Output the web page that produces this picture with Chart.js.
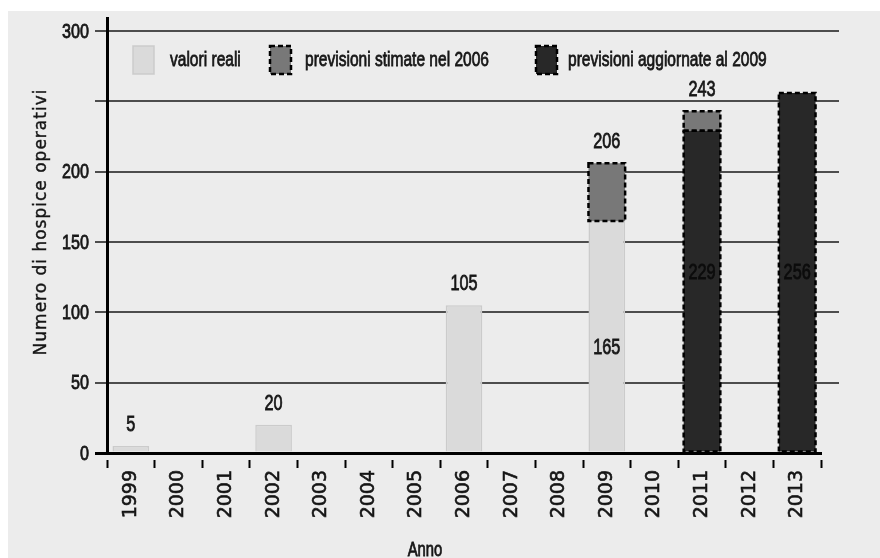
<!DOCTYPE html>
<html lang="it">
<head>
<meta charset="utf-8">
<title>Numero di hospice operativi</title>
<script src="https://cdn.jsdelivr.net/npm/chart.js@4.4.1/dist/chart.umd.min.js"></script>
<style>
  html, body { margin: 0; padding: 0; background: #ffffff; }
  #wrap { width: 880px; height: 558px; }
  canvas { display: block; }
</style>
</head>
<body>
<div id="wrap"><canvas id="chart" width="880" height="558"></canvas></div>
<script>
// Anni sull'asse orizzontale
const years = ['1999', '2000', '2001', '2002', '2003', '2004', '2005', '2006',
               '2007', '2008', '2009', '2010', '2011', '2012', '2013'];

// Hospice effettivamente operativi
const realValues = [5, null, null, 20, null, null, null, 105, null, null, 165, null, null, null, null];

// Previsioni aggiornate al 2009
const updatedForecast = [null, null, null, null, null, null, null, null, null, null, null, null, 229, null, 256];

// Previsioni stimate nel 2006 (totale previsto per l'anno)
const estimateTotals = [null, null, null, null, null, null, null, null, null, null, 206, null, 243, null, null];

// Tacche dell'asse verticale (250 senza etichetta)
const yTickValues = [0, 50, 100, 150, 200, 250, 300];
const yTickLabels = ['0', '50', '100', '150', '200', '', '300'];

const seriesNames = {
  real: 'valori reali',
  estimate: 'previsioni stimate nel 2006',
  updated: 'previsioni aggiornate al 2009'
};

// La parte stimata nel 2006 si impila sopra il valore già presente nell'anno
const estimateSegments = estimateTotals.map((total, i) =>
  total == null ? null : total - ((realValues[i] || 0) + (updatedForecast[i] || 0)));

const SANS = '"Liberation Sans", Arial, sans-serif';
const WIDE = '"DejaVu Sans", Verdana, sans-serif';
const TEXT = '#161616';
const GRID = '#4d4d4d';
const PANEL = '#ececec';
const SQUEEZE = 0.74;   // carattere condensato: compressione orizzontale

const COLORS = {
  real: '#dadada',
  realBorder: '#cbcbcb',
  estimate: '#787878',
  updated: '#282828'
};

// testo in stile condensato, leggermente ripassato per renderlo più pieno
function narrowText(ctx, text, x, y, size, align, baseline, color, squeeze) {
  ctx.save();
  ctx.translate(x, y);
  ctx.scale(squeeze || SQUEEZE, 1);
  ctx.font = size + 'px ' + SANS;
  ctx.textAlign = align;
  ctx.textBaseline = baseline;
  ctx.fillStyle = color || TEXT;
  ctx.strokeStyle = color || TEXT;
  ctx.lineWidth = 0.8;
  ctx.fillText(text, 0, 0);
  ctx.strokeText(text, 0, 0);
  ctx.restore();
}

const decorations = {
  id: 'decorations',
  beforeDraw(chart) {
    const { ctx, width, height } = chart;
    ctx.save();
    ctx.fillStyle = '#ffffff';
    ctx.fillRect(0, 0, width, height);
    ctx.fillStyle = PANEL;
    ctx.fillRect(8, 11, width - 8, height - 11);
    ctx.restore();
  },
  beforeDatasetsDraw(chart) {
    const { ctx, chartArea, scales: { y } } = chart;
    ctx.save();
    // le linee della griglia sporgono a destra dell'area del grafico
    ctx.strokeStyle = GRID;
    ctx.lineWidth = 2;
    y.ticks.forEach(t => {
      if (t.value === 0) return;
      const py = Math.round(y.getPixelForValue(t.value));
      ctx.beginPath();
      ctx.moveTo(chartArea.right, py);
      ctx.lineTo(chartArea.right + 18, py);
      ctx.stroke();
    });
    // l'asse verticale prosegue oltre il valore massimo
    ctx.strokeStyle = '#000000';
    ctx.lineWidth = 3;
    const ax = Math.round(chartArea.left) + 0.5;
    ctx.beginPath();
    ctx.moveTo(ax, chartArea.top - 14);
    ctx.lineTo(ax, chartArea.top);
    ctx.stroke();
    ctx.restore();

    // etichette dell'asse verticale
    yTickValues.forEach((v, i) => {
      if (!yTickLabels[i]) return;
      narrowText(ctx, yTickLabels[i], chartArea.left - 18, y.getPixelForValue(v) + 1,
        21, 'right', 'middle', TEXT, 0.77);
    });
  },
  afterDatasetsDraw(chart) {
    const { ctx, scales: { y } } = chart;
    ctx.save();

    // bordi tratteggiati delle previsioni
    chart.data.datasets.forEach((ds, di) => {
      if (!ds.dashed) return;
      const meta = chart.getDatasetMeta(di);
      meta.data.forEach((el, i) => {
        if (ds.data[i] == null) return;
        const p = el.getProps(['x', 'y', 'base', 'width'], true);
        const left = p.x - p.width / 2;
        const top = Math.min(p.y, p.base);
        const h = Math.abs(p.base - p.y);
        ctx.setLineDash([5, 3]);
        ctx.lineWidth = 2.5;
        ctx.strokeStyle = '#000000';
        ctx.strokeRect(left, top, p.width, h);
      });
    });
    ctx.setLineDash([]);
    ctx.restore();

    // etichette dei valori
    const metaReal = chart.getDatasetMeta(0);
    const metaUpd = chart.getDatasetMeta(1);
    const metaEst = chart.getDatasetMeta(2);

    realValues.forEach((v, i) => {
      if (v == null) return;
      const el = metaReal.data[i];
      if (estimateTotals[i] != null) {
        narrowText(ctx, String(v), el.x, y.getPixelForValue(75), 22, 'center', 'middle');
      } else {
        narrowText(ctx, String(v), el.x, el.y - 15, 22, 'center', 'alphabetic');
      }
    });
    updatedForecast.forEach((v, i) => {
      if (v == null) return;
      const el = metaUpd.data[i];
      narrowText(ctx, String(v), el.x, y.getPixelForValue(128), 22, 'center', 'middle', '#0c0c0c');
    });
    estimateTotals.forEach((v, i) => {
      if (v == null) return;
      const el = metaEst.data[i];
      narrowText(ctx, String(v), el.x, el.y - 15, 22, 'center', 'alphabetic');
    });
  },
  afterDraw(chart) {
    const { ctx } = chart;
    ctx.save();

    // legenda dentro l'area del grafico
    const entries = [
      { ds: chart.data.datasets[0], box: 133, text: 170 },
      { ds: chart.data.datasets[2], box: 270, text: 305 },
      { ds: chart.data.datasets[1], box: 536, text: 568 }
    ];
    entries.forEach(e => {
      const bx = e.box, by = 46, bw = 21, bh = 28;
      ctx.fillStyle = e.ds.backgroundColor;
      ctx.fillRect(bx, by, bw, bh);
      if (e.ds.dashed) {
        ctx.setLineDash([5, 3]);
        ctx.lineWidth = 2.5;
        ctx.strokeStyle = '#000000';
        ctx.strokeRect(bx, by, bw, bh);
        ctx.setLineDash([]);
      } else {
        ctx.lineWidth = 1.5;
        ctx.strokeStyle = COLORS.realBorder;
        ctx.strokeRect(bx, by, bw, bh);
      }
      narrowText(ctx, e.ds.label, e.text, 60, 21, 'left', 'middle');
    });

    // titoli degli assi
    ctx.fillStyle = TEXT;
    ctx.strokeStyle = TEXT;
    ctx.lineWidth = 0.4;
    ctx.font = '17px ' + WIDE;
    ctx.letterSpacing = '1px';
    ctx.textAlign = 'center';
    ctx.textBaseline = 'middle';
    ctx.translate(42, 222);
    ctx.rotate(-Math.PI / 2);
    ctx.fillText('Numero di hospice operativi', 0, 0);
    ctx.strokeText('Numero di hospice operativi', 0, 0);
    ctx.restore();

    narrowText(ctx, 'Anno', 425, 550, 20, 'center', 'middle');
  }
};

new Chart(document.getElementById('chart'), {
  type: 'bar',
  data: {
    labels: years,
    datasets: [
      {
        label: seriesNames.real,
        data: realValues,
        backgroundColor: COLORS.real,
        borderColor: COLORS.realBorder,
        borderWidth: 1.5,
        borderSkipped: 'bottom'
      },
      {
        label: seriesNames.updated,
        data: updatedForecast,
        backgroundColor: COLORS.updated,
        borderWidth: 0,
        dashed: true
      },
      {
        label: seriesNames.estimate,
        data: estimateSegments,
        backgroundColor: COLORS.estimate,
        borderWidth: 0,
        dashed: true
      }
    ]
  },
  options: {
    responsive: false,
    animation: false,
    devicePixelRatio: 1,
    layout: { padding: { left: 0, right: 59, top: 31, bottom: 0 } },
    datasets: {
      bar: { barPercentage: 0.77, categoryPercentage: 1.0 }
    },
    plugins: {
      legend: { display: false },
      tooltip: { enabled: false },
      title: { display: false }
    },
    scales: {
      x: {
        stacked: true,
        offset: true,
        grid: {
          display: true,
          drawOnChartArea: false,
          offset: true,
          tickLength: 15,
          tickColor: '#000000',
          tickWidth: 2,
          tickBorderDash: [0, 5, 10, 100]
        },
        border: { display: true, color: '#000000', width: 3 },
        ticks: {
          autoSkip: false,
          minRotation: 90,
          maxRotation: 90,
          padding: 2,
          color: '#141414',
          textStrokeColor: '#141414',
          textStrokeWidth: 0.6,
          font: { family: WIDE, size: 19 }
        },
        afterFit(scale) { scale.height = 105; }
      },
      y: {
        stacked: true,
        min: 0,
        max: 300,
        afterBuildTicks(scale) {
          scale.ticks = yTickValues.map(v => ({ value: v }));
        },
        grid: {
          color: ctx => (ctx.tick && ctx.tick.value === 0) ? '#000000' : GRID,
          lineWidth: ctx => (ctx.tick && ctx.tick.value === 0) ? 3 : 2,
          tickColor: ctx => (ctx.tick && ctx.tick.value === 0) ? '#000000' : GRID,
          tickLength: 12,
          drawTicks: true
        },
        border: { display: true, color: '#000000', width: 3 },
        ticks: { display: false },
        afterFit(scale) { scale.width = 107; }
      }
    }
  },
  plugins: [decorations]
});
</script>
</body>
</html>
